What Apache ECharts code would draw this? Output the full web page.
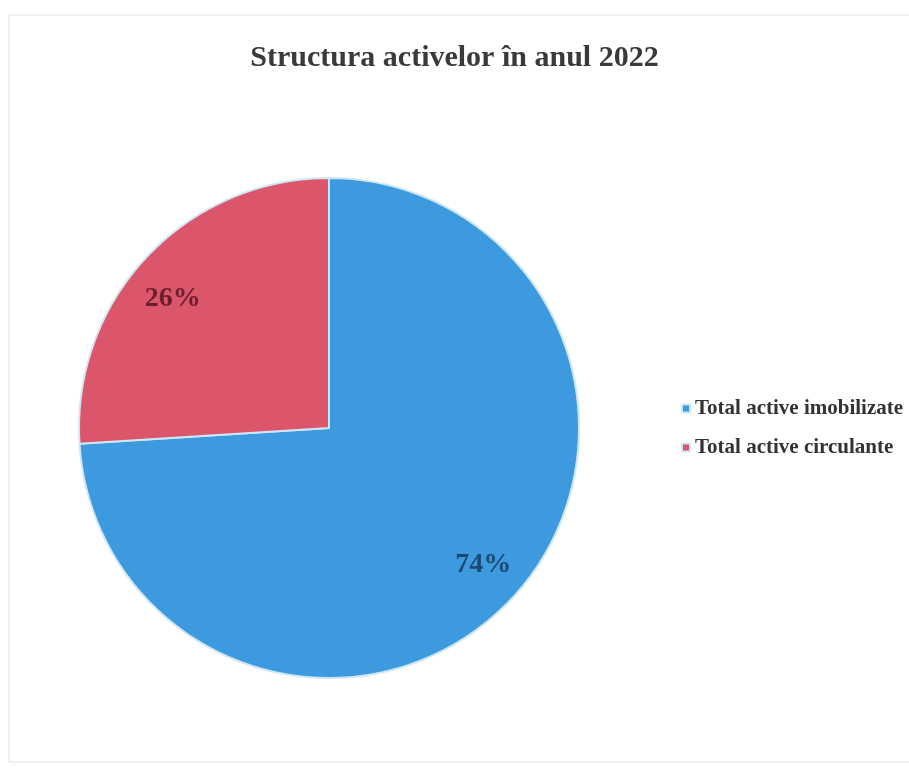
<!DOCTYPE html>
<html>
<head>
<meta charset="utf-8">
<script src="https://cdn.jsdelivr.net/npm/echarts@6/dist/echarts.min.js"></script>
<style>html,body{margin:0;padding:0;background:#fff}#c{width:909px;height:774px}</style>
</head>
<body>
<div id="c"></div>
<script>
var titleText = 'Structura activelor în anul 2022';
var categories = ['Total active imobilizate', 'Total active circulante'];
var values = [74, 26];

var colors = ['#3d9ade', '#db566b'];
var labelStyles = [
  { color: '#1d4a72', offset: [4, -4] },
  { color: '#6e1f2e', offset: [-6, 12] }
];

var chart = echarts.init(document.getElementById('c'));
var data = categories.map(function (n, i) {
  return { name: n, value: values[i], itemStyle: { color: colors[i] } };
});
var labelData = categories.map(function (n, i) {
  return { name: n, value: values[i], label: labelStyles[i] };
});
chart.setOption({
  backgroundColor: '#fff',
  graphic: [{
    type: 'rect', shape: { x: 9, y: 15, width: 920, height: 747 },
    style: { fill: 'none', stroke: '#ebebeb', lineWidth: 1.5 }, silent: true
  }],
  title: {
    text: titleText, left: 'center', top: 38,
    textStyle: { fontFamily: 'Liberation Serif', fontWeight: 'bold', fontSize: 30, color: '#3a3a3a' }
  },
  legend: {
    data: categories, orient: 'vertical', left: 676, top: 393,
    itemWidth: 8, itemHeight: 8, itemGap: 18, icon: 'rect',
    textStyle: { fontFamily: 'Liberation Serif', fontWeight: 'bold', fontSize: 21, color: '#333' }
  },
  series: [{
    type: 'pie', center: [329, 428], radius: [0, 250], startAngle: 90, clockwise: true,
    data: data, label: { show: false }, labelLine: { show: false },
    itemStyle: { borderColor: '#cfe6f5', borderWidth: 2 }, emphasis: { disabled: true }, animation: false
  }, {
    type: 'pie', center: [329, 428], radius: [156, 250], startAngle: 90, clockwise: true,
    data: labelData, silent: true, animation: false,
    itemStyle: { color: 'rgba(0,0,0,0)', borderWidth: 0 },
    label: { show: true, position: 'inside', formatter: '{d}%', fontFamily: 'Liberation Serif', fontWeight: 'bold', fontSize: 28 },
    labelLine: { show: false }, emphasis: { disabled: true }
  }]
});
</script>
</body>
</html>
